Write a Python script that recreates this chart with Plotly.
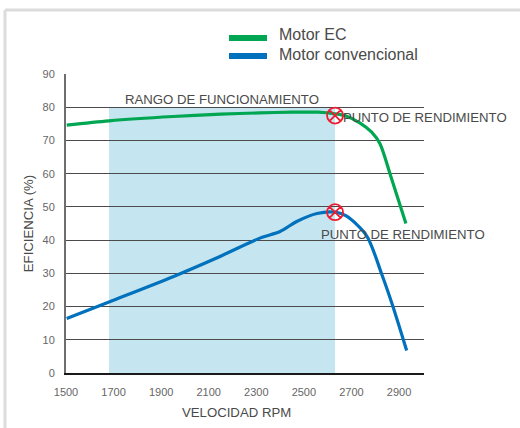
import plotly.graph_objects as go

FONT = "Liberation Sans"
TEXT = "#4a4a4a"

# Data
ec_rpm = [1503, 1681, 1950, 2150, 2315, 2450, 2560, 2631, 2680, 2735, 2785, 2820, 2862, 2929]
ec_eff = [74.6, 75.9, 77.2, 77.9, 78.3, 78.5, 78.5, 78.0, 77.3, 75.3, 72.5, 69.0, 60.0, 45.0]
conv_rpm = [1503, 1681, 1950, 2145, 2315, 2400, 2470, 2555, 2631, 2680, 2764, 2827, 2875, 2932]
conv_eff = [16.4, 21.4, 29.0, 35.0, 40.6, 42.6, 45.6, 48.0, 48.4, 47.2, 41.3, 29.8, 19.9, 6.8]
peak_rpm = [2631, 2631]
peak_eff = [77.5, 48.4]
x_ticks = [1500, 1700, 1900, 2100, 2300, 2500, 2700, 2900]
y_ticks = [0, 10, 20, 30, 40, 50, 60, 70, 80, 90]
band_rpm = [1681, 2631]
band_eff = [0, 80]
series_names = ["Motor EC", "Motor convencional"]
series_colors = ["#00a651", "#0071bc"]

fig = go.Figure()
fig.add_trace(go.Scatter(x=ec_rpm, y=ec_eff, mode="lines", name=series_names[0],
                         line=dict(color=series_colors[0], width=3.2, shape="spline", smoothing=0.8)))
fig.add_trace(go.Scatter(x=conv_rpm, y=conv_eff, mode="lines", name=series_names[1],
                         line=dict(color=series_colors[1], width=3.2, shape="spline", smoothing=0.8)))
fig.add_trace(go.Scatter(x=peak_rpm, y=peak_eff, mode="markers", name="Punto de rendimiento",
                         marker=dict(symbol="circle-x-open", size=16, color="#f01c32",
                                     line=dict(color="#f01c32", width=1.8))))


def fx(px):
    return (px - 66) / 358


def fy(px):
    return (373 - px) / 299


shapes = [
    dict(type="rect", layer="below", xref="x", yref="y", x0=band_rpm[0], x1=band_rpm[1],
         y0=band_eff[0], y1=band_eff[1], fillcolor="#c5e5f1", line_width=0),
    # outer frame
    dict(type="line", xref="paper", yref="paper", x0=fx(5), x1=fx(520), y0=fy(10), y1=fy(10),
         line=dict(color="#dcdcdc", width=3)),
    dict(type="line", xref="paper", yref="paper", x0=fx(5), x1=fx(5), y0=fy(428), y1=fy(10),
         line=dict(color="#dcdcdc", width=3)),
    # legend swatches
    dict(type="line", xref="paper", yref="paper", x0=fx(229), x1=fx(267), y0=fy(38), y1=fy(38),
         line=dict(color=series_colors[0], width=6)),
    dict(type="line", xref="paper", yref="paper", x0=fx(229), x1=fx(267), y0=fy(56), y1=fy(56),
         line=dict(color=series_colors[1], width=6)),
]

annots = [
    dict(text=series_names[0], xref="paper", yref="paper", x=fx(277), y=fy(34.5),
         xanchor="left", yanchor="middle", showarrow=False, font=dict(size=16, color=TEXT, family=FONT)),
    dict(text=series_names[1], xref="paper", yref="paper", x=fx(277), y=fy(54.5),
         xanchor="left", yanchor="middle", showarrow=False, font=dict(size=16, color=TEXT, family=FONT)),
    dict(text="RANGO DE FUNCIONAMIENTO", x=2155, y=82.2, xanchor="center", yanchor="middle",
         showarrow=False, font=dict(size=13.2, color=TEXT, family=FONT)),
    dict(text="PUNTO DE RENDIMIENTO", x=2655, y=77, xanchor="left", yanchor="middle",
         showarrow=False, font=dict(size=13.2, color=TEXT, family=FONT)),
    dict(text="PUNTO DE RENDIMIENTO", x=2565, y=41.8, xanchor="left", yanchor="middle",
         showarrow=False, font=dict(size=13.2, color=TEXT, family=FONT)),
    dict(text="VELOCIDAD RPM", xref="paper", yref="paper", x=fx(236.5), y=fy(412),
         xanchor="center", yanchor="middle", showarrow=False, font=dict(size=13.2, color=TEXT, family=FONT)),
]

fig.update_layout(
    width=520, height=428, autosize=False,
    margin=dict(l=66, r=96, t=74, b=55, pad=0),
    paper_bgcolor="white", plot_bgcolor="white",
    showlegend=False,
    shapes=shapes, annotations=annots,
    font=dict(family=FONT, color=TEXT),
    xaxis=dict(range=[1500, 3005], tickvals=x_ticks, showgrid=False, zeroline=False,
               ticks="outside", ticklen=8, tickcolor="rgba(0,0,0,0)",
               tickfont=dict(size=11, color="#666666", family=FONT),
               showline=True, linecolor="#1a1a1a", linewidth=1.5),
    yaxis=dict(range=[0, 90], tickvals=y_ticks, showgrid=True, gridcolor="#4d4a4c", gridwidth=1.3,
               zeroline=False, ticks="outside", ticklen=7, tickcolor="rgba(0,0,0,0)",
               tickfont=dict(size=11, color="#666666", family=FONT),
               showline=True, linecolor="#6d6e71", linewidth=2,
               title=dict(text="EFICIENCIA (%)", standoff=6, font=dict(size=13.2, color=TEXT, family=FONT))),
)
fig.write_html("out.html", config={"displayModeBar": False},
               post_script="document.body.style.margin='0';document.body.style.overflow='hidden';")
